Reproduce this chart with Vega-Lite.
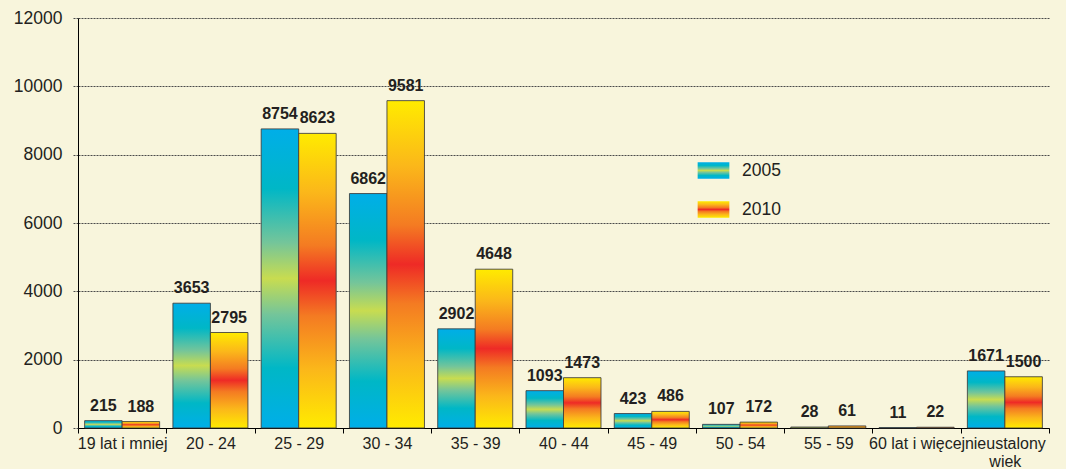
{
  "$schema": "https://vega.github.io/schema/vega-lite/v6.json",
  "width": 971,
  "height": 410,
  "autosize": "none",
  "padding": {"left": 78, "top": 18, "right": 17, "bottom": 41},
  "background": "#f8f5dc",
  "config": {"view": {"stroke": null}, "font": "Liberation Sans"},
  "data": {
    "values": [
      {"age": "19 lat i mniej", "year": "2005", "value": 215},
      {"age": "19 lat i mniej", "year": "2010", "value": 188},
      {"age": "20 - 24", "year": "2005", "value": 3653},
      {"age": "20 - 24", "year": "2010", "value": 2795},
      {"age": "25 - 29", "year": "2005", "value": 8754},
      {"age": "25 - 29", "year": "2010", "value": 8623},
      {"age": "30 - 34", "year": "2005", "value": 6862},
      {"age": "30 - 34", "year": "2010", "value": 9581},
      {"age": "35 - 39", "year": "2005", "value": 2902},
      {"age": "35 - 39", "year": "2010", "value": 4648},
      {"age": "40 - 44", "year": "2005", "value": 1093},
      {"age": "40 - 44", "year": "2010", "value": 1473},
      {"age": "45 - 49", "year": "2005", "value": 423},
      {"age": "45 - 49", "year": "2010", "value": 486},
      {"age": "50 - 54", "year": "2005", "value": 107},
      {"age": "50 - 54", "year": "2010", "value": 172},
      {"age": "55 - 59", "year": "2005", "value": 28},
      {"age": "55 - 59", "year": "2010", "value": 61},
      {"age": "60 lat i więcej", "year": "2005", "value": 11},
      {"age": "60 lat i więcej", "year": "2010", "value": 22},
      {"age": "nieustalony wiek", "year": "2005", "value": 1671},
      {"age": "nieustalony wiek", "year": "2010", "value": 1500}
    ]
  },
  "encoding": {
    "x": {
      "field": "age",
      "type": "nominal",
      "sort": ["19 lat i mniej", "20 - 24", "25 - 29", "30 - 34", "35 - 39", "40 - 44", "45 - 49", "50 - 54", "55 - 59", "60 lat i więcej", "nieustalony wiek"],
      "scale": {"paddingInner": 0, "paddingOuter": 0},
      "axis": {
        "title": null,
        "labelAngle": 0,
        "tickBand": "extent",
        "tickSize": 5,
        "tickColor": "#000000",
        "domainColor": "#000000",
        "domainWidth": 1,
        "labelFontSize": 16,
        "labelColor": "#231f20",
        "labelPadding": 2,
        "labelExpr": "datum.label == 'nieustalony wiek' ? ['nieustalony', 'wiek'] : datum.label"
      }
    },
    "xOffset": {
      "field": "year",
      "type": "nominal",
      "sort": ["2005", "2010"],
      "scale": {"domain": ["2005", "2010"], "paddingInner": 0, "paddingOuter": 0.177}
    },
    "y": {
      "field": "value",
      "type": "quantitative",
      "scale": {"domain": [0, 12000], "nice": false},
      "axis": {
        "title": null,
        "values": [0, 2000, 4000, 6000, 8000, 10000, 12000],
        "format": "d",
        "grid": true,
        "gridColor": "#4a4a4a",
        "gridDash": [2, 1],
        "gridWidth": 1,
        "tickColor": "#4a4a4a",
        "tickDash": [2, 1],
        "tickSize": 6,
        "domainColor": "#000000",
        "domainWidth": 1,
        "labelFontSize": 17.5,
        "labelColor": "#231f20",
        "labelPadding": 10
      }
    }
  },
  "layer": [
    {
      "transform": [{"filter": "datum.year == '2005'"}],
      "mark": {
        "type": "bar", "stroke": "#3c3c3c", "strokeWidth": 1, "strokeOpacity": 0.85,
        "color": {"gradient": "linear", "x1": 0, "y1": 0, "x2": 0, "y2": 1, "stops": [
          {"offset": 0, "color": "#00aee8"},
          {"offset": 0.2, "color": "#00b7c6"},
          {"offset": 0.38, "color": "#74c59a"},
          {"offset": 0.5, "color": "#c8dc50"},
          {"offset": 0.62, "color": "#74c59a"},
          {"offset": 0.8, "color": "#00b7c6"},
          {"offset": 1, "color": "#00aee8"}
        ]}
      },
      "encoding": {
        "opacity": {
          "field": "year",
          "type": "nominal",
          "scale": {"domain": ["2005"], "range": [1]},
          "legend": {
            "title": null,
            "orient": "none",
            "legendX": 619,
            "legendY": 136,
            "symbolType": "M-1,-0.52H1V0.52H-1Z",
            "symbolSize": 1005,
            "symbolStrokeColor": "#555555",
            "symbolStrokeWidth": 1,
            "symbolOpacity": 1,
            "labelFontSize": 17.5,
            "labelColor": "#231f20",
            "labelOffset": 12
          }
        }
      }
    },
    {
      "transform": [{"filter": "datum.year == '2010'"}],
      "mark": {
        "type": "bar", "stroke": "#3c3c3c", "strokeWidth": 1, "strokeOpacity": 0.85,
        "color": {"gradient": "linear", "x1": 0, "y1": 0, "x2": 0, "y2": 1, "stops": [
          {"offset": 0, "color": "#ffeb00"},
          {"offset": 0.2, "color": "#fbb71a"},
          {"offset": 0.38, "color": "#f47b22"},
          {"offset": 0.5, "color": "#ee2a26"},
          {"offset": 0.62, "color": "#f47b22"},
          {"offset": 0.8, "color": "#fbb71a"},
          {"offset": 1, "color": "#ffeb00"}
        ]}
      },
      "encoding": {
        "opacity": {
          "field": "year",
          "type": "nominal",
          "scale": {"domain": ["2010"], "range": [1]},
          "legend": {
            "title": null,
            "orient": "none",
            "legendX": 619,
            "legendY": 175,
            "symbolType": "M-1,-0.52H1V0.52H-1Z",
            "symbolSize": 1005,
            "symbolStrokeColor": "#555555",
            "symbolStrokeWidth": 1,
            "symbolOpacity": 1,
            "labelFontSize": 17.5,
            "labelColor": "#231f20",
            "labelOffset": 12
          }
        }
      }
    },
    {
      "mark": {"type": "text", "baseline": "bottom", "dy": -7, "fontWeight": "bold", "fontSize": 16, "color": "#231f20"},
      "encoding": {
        "text": {"field": "value", "type": "quantitative", "format": "d"}
      }
    }
  ],
  "resolve": {
    "scale": {"opacity": "independent"},
    "legend": {"opacity": "independent"}
  }
}
